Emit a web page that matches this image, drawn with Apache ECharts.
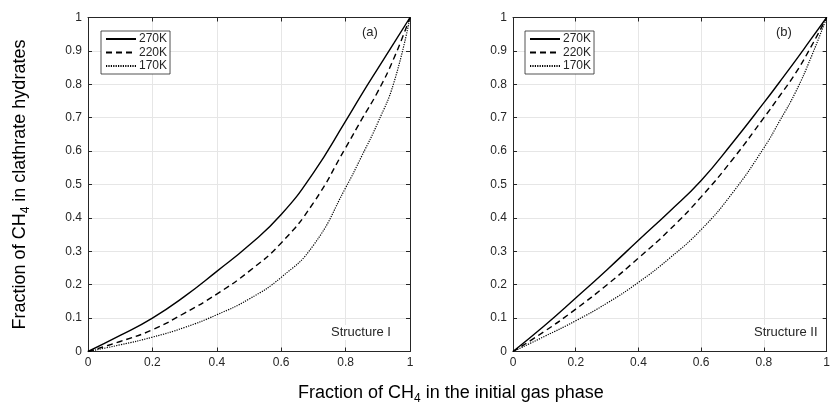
<!DOCTYPE html>
<html><head><meta charset="utf-8">
<script src="https://cdn.jsdelivr.net/npm/echarts@6/dist/echarts.min.js"></script>
<style>html,body{margin:0;padding:0;background:#fff}#c{width:833px;height:409px}</style>
</head><body><div id="c"></div>
<script>
// Shared x positions (fraction of CH4 in the initial gas phase)
const xs = [0, 0.1, 0.2, 0.3, 0.4, 0.5, 0.6, 0.7, 0.8, 0.85, 0.9, 0.95, 1];
// Structure I (panel a)
const s1_270 = [0, 0.048, 0.10, 0.165, 0.24, 0.318, 0.41, 0.535, 0.69, 0.77, 0.847, 0.923, 1];
const s1_220 = [0, 0.03, 0.065, 0.115, 0.172, 0.24, 0.325, 0.445, 0.61, 0.695, 0.778, 0.878, 1];
const s1_170 = [0, 0.02, 0.043, 0.072, 0.11, 0.157, 0.222, 0.318, 0.49, 0.585, 0.685, 0.805, 1];
// Structure II (panel b)
const s2_270 = [0, 0.077, 0.16, 0.245, 0.333, 0.42, 0.512, 0.625, 0.745, 0.807, 0.87, 0.935, 1];
const s2_220 = [0, 0.06, 0.127, 0.20, 0.28, 0.365, 0.463, 0.575, 0.70, 0.765, 0.832, 0.912, 1];
const s2_170 = [0, 0.045, 0.092, 0.145, 0.207, 0.28, 0.365, 0.475, 0.61, 0.69, 0.775, 0.88, 1];
const names = ['270K', '220K', '170K'];

const FONT = 'Liberation Sans, Arial, Helvetica, sans-serif';
const pair = (a) => xs.map((x, i) => [x, a[i]]);
const styles = [
  {type: 'solid', width: 1.4},
  {type: [6, 4], width: 1.4},
  {type: [1.2, 1.2], width: 1.2}
];

const chart = echarts.init(document.getElementById('c'), null, {renderer: 'canvas'});

const grids = [
  {left: 88, top: 17.5, width: 322, height: 334},
  {left: 513, top: 17.5, width: 321, height: 334}
];

function xAx(gi, pos) {
  const main = pos === 'bottom';
  return {
    type: 'value', gridIndex: gi, position: pos, min: 0, max: 1, interval: 0.2,
    axisLine: {show: true, onZero: false, lineStyle: {color: '#262626', width: 1}},
    axisTick: {show: true, inside: true, length: 4, lineStyle: {color: '#262626'}},
    axisLabel: {show: main, color: '#262626', fontSize: 12, fontFamily: FONT, margin: 5},
    splitLine: {show: main, lineStyle: {color: '#e6e6e6', width: 1}}
  };
}
function yAx(gi, pos, withName) {
  const main = pos === 'left';
  const o = {
    type: 'value', gridIndex: gi, position: pos, min: 0, max: 1, interval: 0.1,
    axisLine: {show: true, onZero: false, lineStyle: {color: '#262626', width: 1}},
    axisTick: {show: true, inside: true, length: 4, lineStyle: {color: '#262626'}},
    axisLabel: {show: main, color: '#262626', fontSize: 12, fontFamily: FONT, margin: 6},
    splitLine: {show: main, lineStyle: {color: '#e6e6e6', width: 1}}
  };
  if (withName) {
    o.name = 'Fraction of CH{s|4} in clathrate hydrates';
    o.nameLocation = 'middle';
    o.nameGap = 56;
    o.nameTextStyle = {color: '#000', fontSize: 18, fontFamily: FONT,
      rich: {s: {fontSize: 12, fontFamily: FONT, color: '#000', verticalAlign: 'bottom', padding: [12, 0, 0, 0]}}};
  }
  return o;
}

const panels = [[s1_270, s1_220, s1_170], [s2_270, s2_220, s2_170]];
const series = [];
panels.forEach((p, gi) => {
  p.forEach((arr, k) => {
    series.push({
      type: 'line', name: names[k], xAxisIndex: gi * 2, yAxisIndex: gi * 2,
      data: pair(arr), smooth: 0.5, symbol: 'none', showSymbol: false,
      lineStyle: Object.assign({color: '#000'}, styles[k]),
      itemStyle: {color: '#000'}, z: 5
    });
  });
});

function legendAt(left) {
  return {
    data: names, orient: 'vertical', left: left, top: 31,
    itemWidth: 30, itemHeight: 10, itemGap: 1.5,
    padding: [2, 3, 2, 4],
    borderColor: '#262626', borderWidth: 0.8, backgroundColor: '#fff',
    itemStyle: {color: 'rgba(0,0,0,0)', borderColor: 'rgba(0,0,0,0)', borderWidth: 0, opacity: 0},
    textStyle: {color: '#262626', fontSize: 12, fontFamily: FONT, padding: [0, 0, 0, -2]},
    selectedMode: false
  };
}

const txt = (x, y, t, size, bg) => ({
  type: 'text', left: x, top: y, z: 10,
  style: Object.assign({text: t, fill: '#262626', font: size + 'px ' + FONT},
    bg ? {backgroundColor: '#fff', padding: [1, 1]} : {})
});

chart.setOption({
  animation: false,
  backgroundColor: '#fff',
  grid: grids,
  xAxis: [xAx(0, 'bottom'), xAx(0, 'top'), xAx(1, 'bottom'), xAx(1, 'top')],
  yAxis: [yAx(0, 'left', true), yAx(0, 'right'), yAx(1, 'left'), yAx(1, 'right')],
  legend: [legendAt(101), legendAt(525)],
  series: series,
  graphic: [
    txt(362, 26, '(a)', 13),
    txt(776, 26, '(b)', 13),
    txt(330, 325, 'Structure I', 13, true),
    txt(753, 325, 'Structure II', 13, true),
    {type: 'text', left: 298, top: 384,
     style: {text: 'Fraction of CH{s|4} in the initial gas phase', fill: '#000',
       font: '18px ' + FONT,
       rich: {s: {fontSize: 12, fontFamily: FONT, fill: '#000', padding: [12, 0, 0, 0]}}}}
  ]
});
</script></body></html>
